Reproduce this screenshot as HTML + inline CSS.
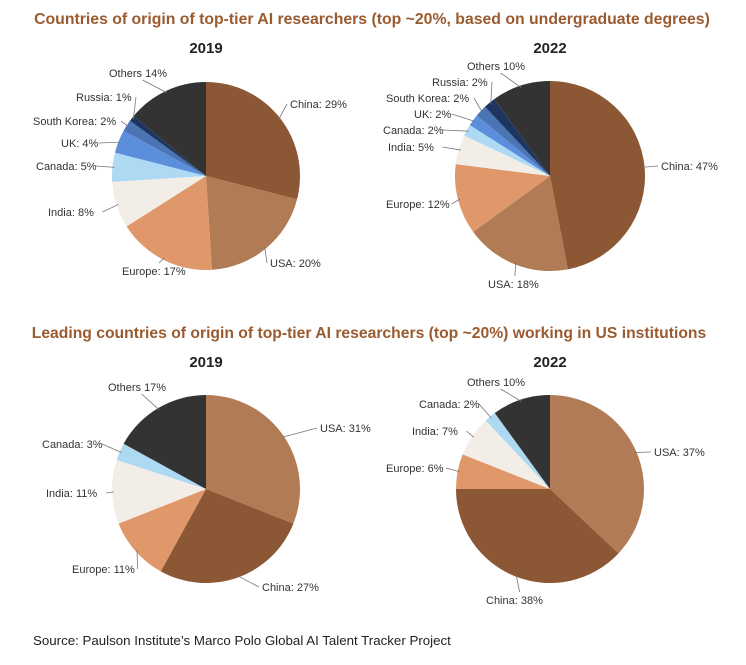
<!DOCTYPE html>
<html><head><meta charset="utf-8"><style>
body{margin:0;background:#fff;font-family:"Liberation Sans",sans-serif}
svg text{font-family:"Liberation Sans",sans-serif}
</style></head><body>
<svg id="c" width="746" height="660" viewBox="0 0 746 660">
<text x="372" y="24" text-anchor="middle" font-size="15.8" font-weight="bold" fill="#9A5B30">Countries of origin of top-tier AI researchers (top ~20%, based on undergraduate degrees)</text>
<text x="369" y="338" text-anchor="middle" font-size="15.7" font-weight="bold" fill="#9A5B30">Leading countries of origin of top-tier AI researchers (top ~20%) working in US institutions</text>
<text x="206" y="53" text-anchor="middle" font-size="15" font-weight="bold" fill="#222">2019</text>
<text x="550" y="53" text-anchor="middle" font-size="15" font-weight="bold" fill="#222">2022</text>
<text x="206" y="367" text-anchor="middle" font-size="15" font-weight="bold" fill="#222">2019</text>
<text x="550" y="367" text-anchor="middle" font-size="15" font-weight="bold" fill="#222">2022</text>
<text x="33" y="645" font-size="13.3" fill="#222">Source: Paulson Institute’s Marco Polo Global AI Talent Tracker Project</text>
</svg>
<script>
const catsTop=["China","USA","Europe","India","Canada","UK","South Korea","Russia","Others"];
const vals2019Top=[29,20,17,8,5,4,2,1,14];
const vals2022Top=[47,18,12,5,2,2,2,2,10];
const catsBottom=["USA","China","Europe","India","Canada","Others"];
const vals2019Bottom=[31,27,11,11,3,17];
const vals2022Bottom=[37,38,6,7,2,10];
const colors={China:"#8C5735",USA:"#B07B55",Europe:"#E0976A",India:"#F2EEE7",Canada:"#AED9F3",UK:"#5B8EDB","South Korea":"#4A74B4",Russia:"#1E3560",Others:"#333333"};
const labelPos=[
 [[290,108],[270,267],[122,275],[48,216],[36,170],[61,147],[33,125],[76,101],[109,77]],
 [[661,170],[488,288],[386,208],[388,151],[383,134],[414,118],[386,102],[432,86],[467,70]],
 [[320,432],[262,591],[72,573],[46,497],[42,448],[108,391]],
 [[654,456],[486,604],[386,472],[412,435],[419,408],[467,386]]
];
const charts=[
 {cx:206,cy:176,r:94,cats:catsTop,vals:vals2019Top,name:"pie-2019-top"},
 {cx:550,cy:176,r:95,cats:catsTop,vals:vals2022Top,name:"pie-2022-top"},
 {cx:206,cy:489,r:94,cats:catsBottom,vals:vals2019Bottom,name:"pie-2019-bottom"},
 {cx:550,cy:489,r:94,cats:catsBottom,vals:vals2022Bottom,name:"pie-2022-bottom"}
];
const NS="http://www.w3.org/2000/svg";
const svg=document.getElementById("c");
function pt(cx,cy,r,a){return [cx+r*Math.sin(a),cy-r*Math.cos(a)];}
charts.forEach((c,ci)=>{
 const g=document.createElementNS(NS,"g");
 
 
 svg.appendChild(g);
 const tot=c.vals.reduce((a,b)=>a+b,0);
 let a0=0;
 c.vals.forEach((v,i)=>{
  const a1=a0+v/tot*2*Math.PI;
  const p0=pt(c.cx,c.cy,c.r,a0),p1=pt(c.cx,c.cy,c.r,a1);
  const large=(a1-a0)>Math.PI?1:0;
  const p=document.createElementNS(NS,"path");
  p.setAttribute("d",`M${c.cx},${c.cy}L${p0[0]},${p0[1]}A${c.r},${c.r} 0 ${large} 1 ${p1[0]},${p1[1]}Z`);
  p.setAttribute("fill",colors[c.cats[i]]);
  
  
  g.appendChild(p);
  const am=(a0+a1)/2;
  const lp=labelPos[ci][i];
  const isOthers=c.cats[i]==="Others";
  const txt=c.cats[i]+(isOthers?" ":": ")+v+"%";
  const t=document.createElementNS(NS,"text");
  t.setAttribute("x",lp[0]);t.setAttribute("y",lp[1]);
  t.setAttribute("font-size","11");t.setAttribute("fill","#333");
  t.textContent=txt;
  
  
  g.appendChild(t);
  const rim=pt(c.cx,c.cy,c.r-2,am);
  const w=txt.length*5.6;
  let ex,ey;
  if(lp[0]>c.cx+20){ex=lp[0]-3;ey=lp[1]-4;}
  else if(lp[1]>c.cy+c.r-10 || lp[1]<c.cy-c.r+5){ex=lp[0]+w*0.6;ey=lp[1]+(lp[1]<c.cy?3:-12);}
  else {ex=lp[0]+w+4;ey=lp[1]-4;}
  const l=document.createElementNS(NS,"line");
  l.setAttribute("x1",rim[0]);l.setAttribute("y1",rim[1]);
  l.setAttribute("x2",ex);l.setAttribute("y2",ey);
  l.setAttribute("stroke","#777");l.setAttribute("stroke-width","0.8");
  
  
  g.appendChild(l);
  a0=a1;
 });
});
</script>
</body></html>
